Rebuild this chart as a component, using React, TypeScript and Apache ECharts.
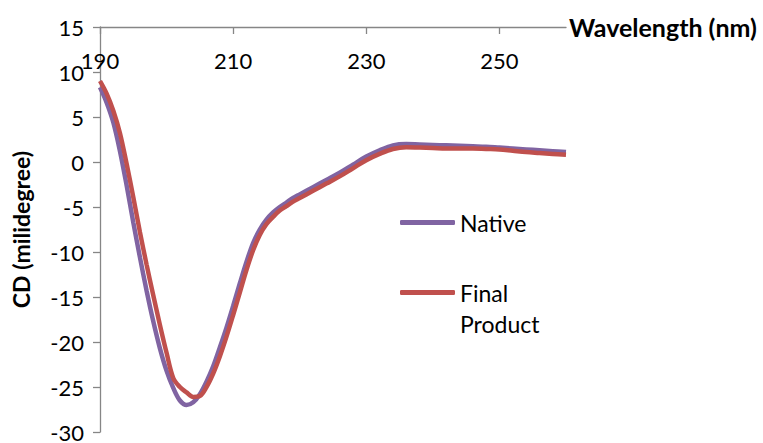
import React, { useEffect, useRef } from "react";
import * as echarts from "echarts";

// Wavelength sampling (nm)
const wavelengths = [
  190, 191, 192, 193, 194, 195, 196, 197, 198, 199, 200, 201, 202, 203, 204,
  205, 206, 207, 208, 209, 210, 211, 212, 213, 214, 215, 216, 217, 218, 219,
  220, 222, 224, 226, 228, 230, 232, 234, 236, 238, 240, 242, 244, 246, 248,
  250, 252, 254, 256, 258, 260,
];

// CD signal (millidegree) of the native protein
const nativeCD = [
  8.3, 6.6, 4.4, 1.2, -2.6, -6.7, -10.6, -14.3, -17.7, -20.7, -23.2, -25.1,
  -26.5, -27.0, -26.7, -25.8, -24.4, -22.7, -20.6, -18.4, -16.0, -13.5, -11.1,
  -9.0, -7.5, -6.4, -5.6, -5.0, -4.5, -4.0, -3.6, -2.8, -2.0, -1.2, -0.3, 0.6,
  1.3, 1.85, 2.0, 1.95, 1.9, 1.85, 1.8, 1.75, 1.7, 1.6, 1.5, 1.4, 1.3, 1.2,
  1.1,
];

// CD signal (millidegree) of the final product
const finalCD = [
  9.0, 7.6, 5.7, 3.2, -0.2, -3.9, -7.8, -11.4, -14.8, -18.1, -21.2, -24.0,
  -25.0, -25.6, -26.1, -26.0, -25.0, -23.5, -21.6, -19.4, -17.0, -14.5, -12.0,
  -9.8, -8.1, -6.9, -6.1, -5.4, -4.9, -4.4, -4.0, -3.2, -2.4, -1.6, -0.7, 0.2,
  0.9, 1.45, 1.65, 1.6, 1.55, 1.5, 1.5, 1.5, 1.45, 1.4, 1.25, 1.1, 1.0, 0.9,
  0.8,
];

const xTicks = [190, 210, 230, 250];

const FONT = "Lato";
const AXIS_GREY = "#868686";

export default function App() {
  const ref = useRef<HTMLDivElement>(null);

  useEffect(() => {
    if (!ref.current) return;
    const chart = echarts.init(ref.current, undefined, { renderer: "svg" });

    const pairs = (ys: number[]) => wavelengths.map((x, i) => [x, ys[i]]);

    chart.setOption({
      animation: false,
      backgroundColor: "#fff",
      textStyle: { fontFamily: FONT, color: "#000" },
      grid: { left: 100, right: 197, top: 27, bottom: 9, containLabel: false },
      legend: {
        orient: "vertical",
        left: 400,
        top: 207,
        padding: 0,
        itemGap: 8,
        itemWidth: 55,
        itemHeight: 5,
        icon: "roundRect",
        textStyle: { fontFamily: FONT, fontSize: 23, color: "#000", lineHeight: 31 },
        data: [{ name: "Native" }, { name: "Final Product" }],
        // blank leading line keeps "Final" level with the legend stroke
        formatter: (name: string) => (name === "Final Product" ? "\nFinal\nProduct" : name),
      },
      xAxis: {
        type: "value",
        position: "top",
        min: 190,
        max: 260,
        interval: 20,
        name: "Wavelength (nm)",
        nameLocation: "end",
        nameGap: 3,
        nameTextStyle: { fontFamily: FONT, fontSize: 25, fontWeight: "bold", color: "#000" },
        axisLine: { show: true, onZero: false, lineStyle: { color: AXIS_GREY, width: 1.3 } },
        axisTick: { show: true, inside: true, length: 7, customValues: xTicks, lineStyle: { color: AXIS_GREY, width: 1.3 } },
        axisLabel: { inside: true, margin: 22, fontSize: 22, color: "#000", fontFamily: FONT, customValues: xTicks },
        splitLine: { show: false },
      },
      yAxis: {
        type: "value",
        min: -30,
        max: 15,
        interval: 5,
        name: "CD (milidegree)",
        nameLocation: "middle",
        nameGap: 68,
        nameTextStyle: { fontFamily: FONT, fontSize: 23, fontWeight: "bold", color: "#000" },
        axisLine: { show: true, onZero: false, lineStyle: { color: AXIS_GREY, width: 1.3 } },
        axisTick: { show: true, length: 7, lineStyle: { color: AXIS_GREY, width: 1.3 } },
        axisLabel: { margin: 16, fontSize: 22, lineHeight: 16, padding: [0, 0, 3, 0], color: "#000", fontFamily: FONT },
        splitLine: { show: false },
      },
      series: [
        {
          name: "Native",
          type: "line",
          data: pairs(nativeCD),
          symbol: "none",
          smooth: 0.35,
          lineStyle: { color: "#8064A2", width: 4.5 },
          itemStyle: { color: "#8064A2" },
        },
        {
          name: "Final Product",
          type: "line",
          data: pairs(finalCD),
          symbol: "none",
          smooth: 0.35,
          lineStyle: { color: "#C0504D", width: 4.5 },
          itemStyle: { color: "#C0504D" },
        },
      ],
    });

    return () => chart.dispose();
  }, []);

  return (
    <div
      ref={ref}
      style={{ position: "fixed", left: 0, top: 0, width: 763, height: 443 }}
    />
  );
}
